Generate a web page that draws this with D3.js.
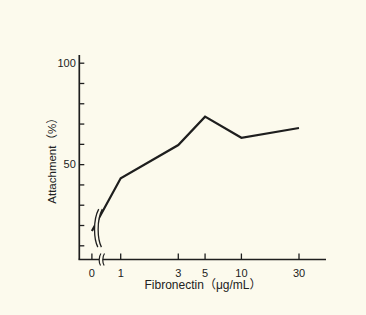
<!DOCTYPE html>
<html><head><meta charset="utf-8">
<script src="https://cdn.jsdelivr.net/npm/d3@7"></script>
<style>
html,body{margin:0;padding:0;background:#fcfaed;}
svg{display:block;}
text{font-family:"Liberation Sans",Arial,"Noto Sans CJK JP",sans-serif;fill:#222;}
</style></head>
<body>
<svg id="chart" width="366" height="315"></svg>
<script>
// ---- data ----
const concentrations = [0, 1, 3, 5, 10, 30];           // Fibronectin (µg/mL)
const attachment     = [17, 43, 59.4, 73.4, 63, 67.8];  // Attachment (%)
const xTickValues    = [0, 1, 3, 5, 10, 30];
const xTickLabels    = ["0", "1", "3", "5", "10", "30"];
const yTickValues    = [10, 20, 30, 40, 50, 60, 70, 80, 90, 100];
const yTickLabels    = ["", "", "", "", "50", "", "", "", "", "100"];
const xTitle = "Fibronectin（μg/mL）";
const yTitle = "Attachment（%）";

// ---- layout ----
const svg = d3.select("#chart");
const ink = "#1e1e1e", bg = "#fcfaed";
const axisX = 79.3, axisY = 259.5;

const xLog = d3.scaleLog().domain([1, 30]).range([120.7, 299]);
const zeroX = xLog(1) - (xLog(3) - xLog(1)) / 2;
const x = v => v <= 0 ? zeroX : xLog(v);
const y = d3.scaleLinear().domain([3, 100]).range([axisY, 62.7]);

// axes lines
svg.append("line").attr("x1", axisX).attr("x2", axisX).attr("y1", 55).attr("y2", axisY)
  .attr("stroke", ink).attr("stroke-width", 1.7);
svg.append("line").attr("x1", axisX - 0.8).attr("x2", 326).attr("y1", axisY).attr("y2", axisY)
  .attr("stroke", ink).attr("stroke-width", 1.7);

// y ticks (inward)
const yAxis = d3.axisLeft(y).tickValues(yTickValues).tickSize(-5).tickPadding(3.5)
  .tickFormat((d, i) => yTickLabels[i]);
const gy = svg.append("g").attr("transform", `translate(${axisX},0)`).call(yAxis);
gy.select(".domain").remove();
gy.selectAll(".tick line").attr("stroke", ink).attr("stroke-width", 1.3);
gy.selectAll(".tick text").attr("font-size", 11).attr("fill", "#222")
  .style("font-family", '"Liberation Sans",Arial,sans-serif');

// x ticks (inward, custom because of the 0 break)
const gx = svg.append("g");
gx.selectAll("line.t").data(xTickValues).join("line").attr("class", "t")
  .attr("x1", d => x(d)).attr("x2", d => x(d)).attr("y1", axisY).attr("y2", axisY - 6)
  .attr("stroke", ink).attr("stroke-width", 1.3);
gx.selectAll("text").data(xTickValues).join("text")
  .attr("x", d => x(d)).attr("y", 276.5).attr("text-anchor", "middle").attr("font-size", 11)
  .text((d, i) => xTickLabels[i]);

// data line
const line = d3.line().x(d => x(d[0])).y(d => y(d[1]));
const pts = concentrations.map((c, i) => [c, attachment[i]]);
svg.append("path").attr("d", line(pts)).attr("fill", "none")
  .attr("stroke", ink).attr("stroke-width", 2.2).attr("stroke-linejoin", "miter");

// break marks
function squigD(tx, ty, h, w) {
  return `C${tx - w},${ty + h * 0.3} ${tx - w * 0.8},${ty + h * 0.8} ${tx - w * 0.15},${ty + h}`;
}
function breakMark(bx, by, h, w, gap, sw) {
  const g = svg.append("g");
  const l = `M${bx},${by} ` + squigD(bx, by, h, w);
  const r = `M${bx + gap},${by} ` + squigD(bx + gap, by, h, w);
  const p0 = l + ` L${bx + gap - w * 0.15},${by + h}` +
    ` C${bx + gap - w * 0.8},${by + h * 0.8} ${bx + gap - w},${by + h * 0.3} ${bx + gap},${by} Z`;
  g.append("path").attr("d", p0).attr("fill", bg).attr("stroke", "none");
  g.append("path").attr("d", l).attr("fill", "none").attr("stroke", ink).attr("stroke-width", sw);
  g.append("path").attr("d", r).attr("fill", "none").attr("stroke", ink).attr("stroke-width", sw);
}
// break on data line (between 0 and 1)
breakMark(zeroX + 6.8, y(attachment[0]) - 22, 38, 6, 3.6, 1.3);
// break on x axis
breakMark(zeroX + 9, axisY - 6, 12, 2.5, 3.6, 1.2);

// titles
svg.append("text").attr("x", 203).attr("y", 289).attr("text-anchor", "middle")
  .attr("font-size", 12).text(xTitle);
svg.append("text").attr("transform", `translate(56,158) rotate(-90)`).attr("text-anchor", "middle")
  .attr("font-size", 11.5).text(yTitle);
</script>
</body></html>
